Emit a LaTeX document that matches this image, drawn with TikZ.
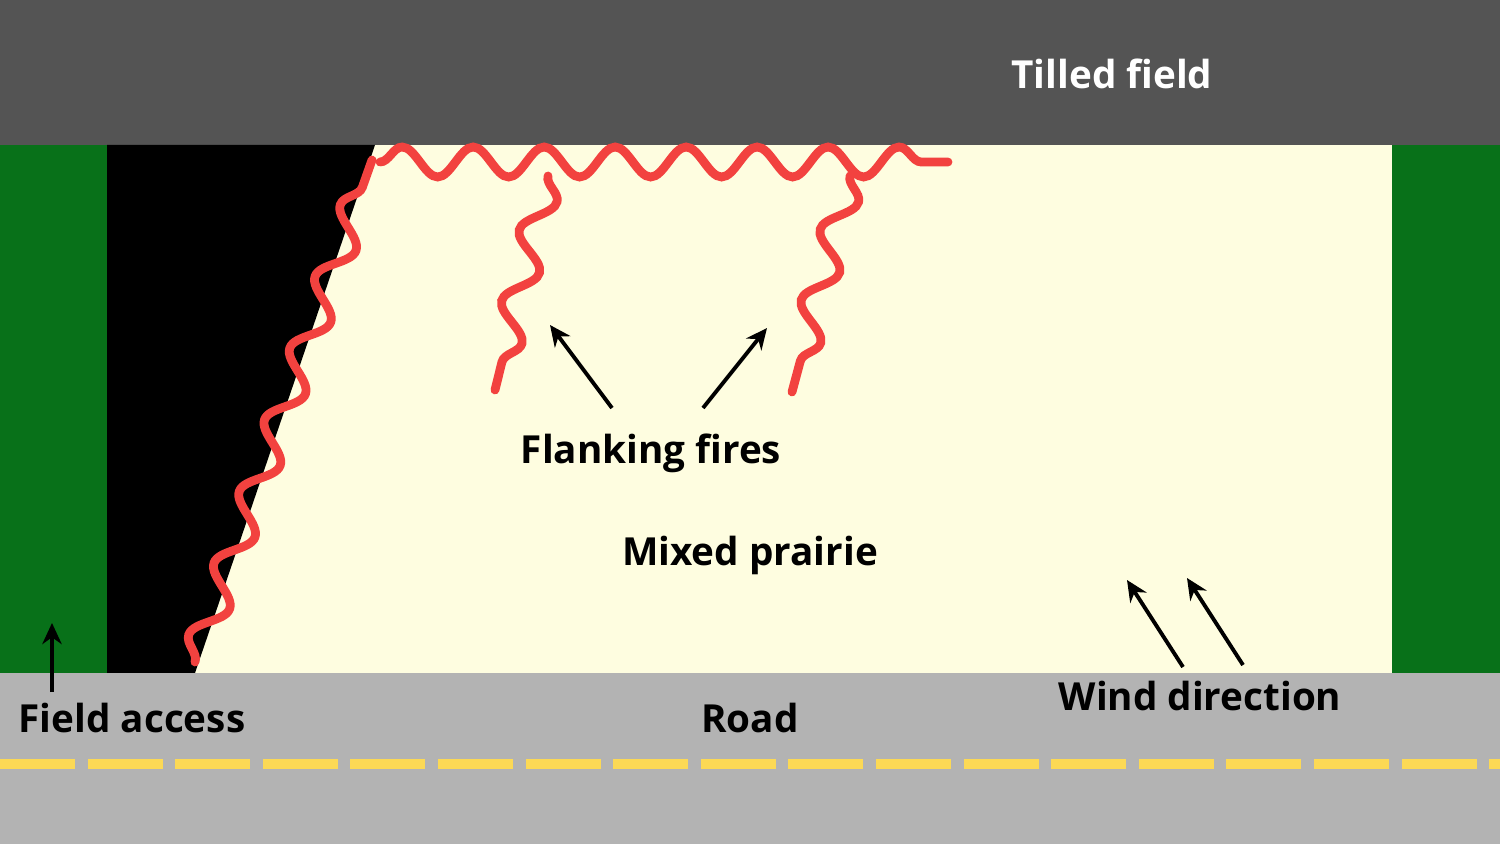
\documentclass[tikz,border=0pt]{standalone}
\usepackage{fontspec}
\setmainfont{Open Sans}
\usetikzlibrary{decorations.pathmorphing,arrows.meta}
\definecolor{dk}{HTML}{545454}
\definecolor{gr}{HTML}{087119}
\definecolor{cr}{HTML}{FEFDE0}
\definecolor{rd}{HTML}{B3B3B3}
\definecolor{yl}{HTML}{FCD955}
\definecolor{fire}{HTML}{F2423F}
\tikzset{
 fireline/.style={draw=fire,line width=5pt,line cap=round,decorate,decoration={snake,segment length=#1,amplitude=0.3cm}},
 arr/.style={draw=black,line width=2.2pt,-{Stealth[length=12pt,width=11pt]}},
 lbl/.style={font=\fontsize{22}{26}\selectfont\bfseries,text=black,inner sep=0pt}
}
\begin{document}
\begin{tikzpicture}[x=0.02cm,y=-0.02cm]
\useasboundingbox (0,0) rectangle (1500,844);
\fill[dk] (0,0) rectangle (1500,145);
\fill[gr] (0,145) rectangle (1500,673);
\fill[cr] (107,145) rectangle (1392,673);
\fill[black] (107,145) -- (375,145) -- (195,673) -- (107,673) -- cycle;
\fill[rd] (0,673) rectangle (1500,844);
\foreach \i in {0,...,17} \fill[yl] ({\i*87.6},759) rectangle ({\i*87.6+75},769);
\draw[fireline=1.52cm] (195,662) -- (372,160);
\draw[fireline=1.42cm] (380,162) -- (948,162);
\draw[fireline=1.46cm] (548,176) -- (495,390);
\draw[fireline=1.46cm] (850,176) -- (792,392);
\coordinate (f1s) at (612,408); \coordinate (f1e) at (550,325);
\coordinate (f2s) at (703,408); \coordinate (f2e) at (767,328);
\coordinate (w1s) at (1183,667); \coordinate (w1e) at (1127,580);
\coordinate (w2s) at (1243,665); \coordinate (w2e) at (1187,578);
\coordinate (as) at (52,692); \coordinate (ae) at (52,623);
\draw[arr] (f1s) -- (f1e);
\draw[arr] (f2s) -- (f2e);
\draw[arr] (w1s) -- (w1e);
\draw[arr] (w2s) -- (w2e);
\draw[arr] (as) -- (ae);
\node[lbl,text=white] (tf) at (1112,74) {Tilled field};
\node[lbl] (ff) at (651,453) {Flanking fires};
\node[lbl] (mp) at (750,555) {Mixed prairie};
\node[lbl] (fa) at (132,718) {Field access};
\node[lbl] (rdl) at (750,718) {Road};
\node[lbl] (wd) at (1200,696) {Wind direction};
\end{tikzpicture}
\end{document}
